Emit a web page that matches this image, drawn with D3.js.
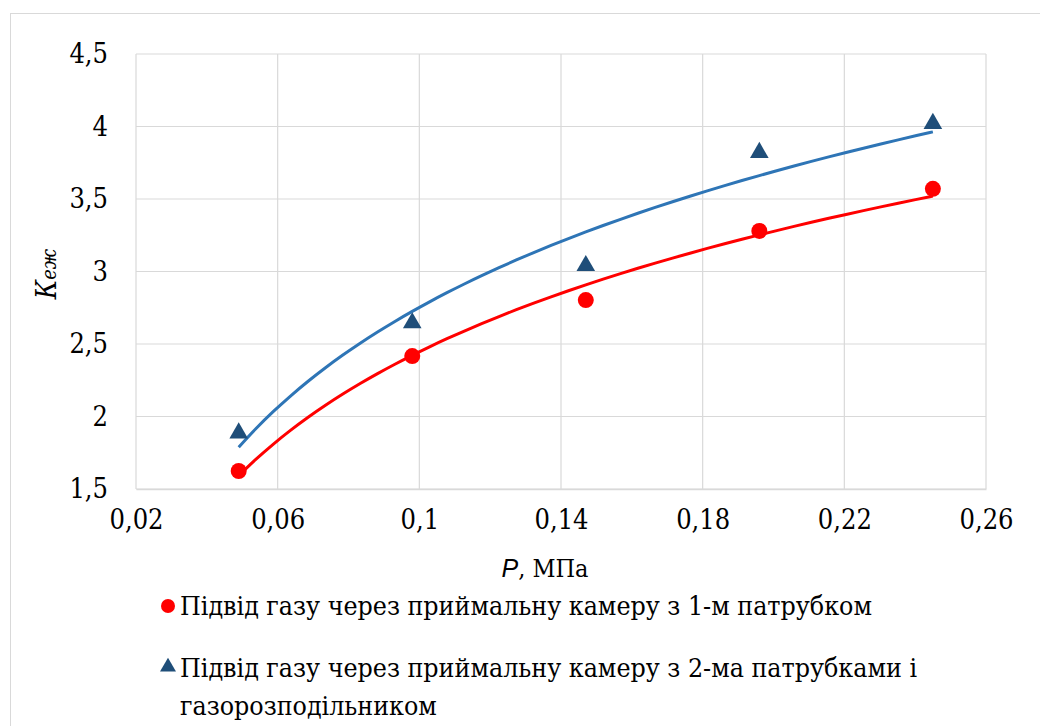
<!DOCTYPE html>
<html>
<head>
<meta charset="utf-8">
<script src="https://cdn.jsdelivr.net/npm/d3@7"></script>
<style>
  body { margin: 0; background: #fff; }
  svg text { fill: #000; }
</style>
</head>
<body>
<svg id="chart"></svg>
<script>
const pressure = [0.049, 0.098, 0.147, 0.196, 0.245];
const oneNozzle = [1.624, 2.417, 2.803, 3.28, 3.57];
const twoNozzles = [1.886, 2.645, 3.04, 3.82, 4.02];
const xTicks = [0.02, 0.06, 0.1, 0.14, 0.18, 0.22, 0.26];
const yTicks = [1.5, 2, 2.5, 3, 3.5, 4, 4.5];
const legendLabels = [
    ["Підвід газу через приймальну камеру з 1-м патрубком"],
    ["Підвід газу через приймальну камеру з 2-ма патрубками і", "газорозподільником"]
];

var width = 1040, height = 726;
var serifNarrow = "DejaVu Serif Condensed";
var svg = d3.select("#chart").attr("width", width).attr("height", height);

// outer frame of the chart
svg.append("rect")
    .attr("x", 10.5).attr("y", 13.5)
    .attr("width", 1040).attr("height", 730)
    .attr("fill", "none").attr("stroke", "#d9d9d9").attr("stroke-width", 1);

var x = d3.scaleLinear().domain([0.02, 0.26]).range([136, 986]);
var y = d3.scaleLinear().domain([1.5, 4.5]).range([489, 54]);
var fmt = d => String(+d.toFixed(2)).replace(".", ",");

// gridlines
svg.append("g").selectAll("line").data(xTicks).enter().append("line")
    .attr("x1", d => x(d)).attr("x2", d => x(d))
    .attr("y1", y(1.5)).attr("y2", y(4.5))
    .attr("stroke", "#d9d9d9").attr("stroke-width", 1.2);
svg.append("g").selectAll("line").data(yTicks).enter().append("line")
    .attr("x1", x(0.02)).attr("x2", x(0.26))
    .attr("y1", d => y(d)).attr("y2", d => y(d))
    .attr("stroke", "#d9d9d9").attr("stroke-width", 1.2);

// axes
var xAxis = svg.append("g").attr("transform", `translate(0,${y(1.5)})`)
    .call(d3.axisBottom(x).tickValues(xTicks).tickFormat(fmt).tickSize(0).tickPadding(21));
xAxis.attr("font-family", serifNarrow).attr("font-size", 27);
xAxis.select(".domain").attr("stroke", "#d9d9d9").attr("stroke-width", 1.5);

var yAxis = svg.append("g").attr("transform", `translate(${x(0.02)},0)`)
    .call(d3.axisLeft(y).tickValues(yTicks).tickFormat(fmt).tickSize(0).tickPadding(28));
yAxis.attr("font-family", serifNarrow).attr("font-size", 27);
yAxis.select(".domain").remove();

// axis titles
var xt = svg.append("text").attr("x", 545).attr("y", 577)
    .attr("text-anchor", "middle").attr("font-size", 25).attr("font-family", serifNarrow);
xt.append("tspan").attr("font-style", "italic").attr("font-family", "Liberation Sans").text("P");
xt.append("tspan").text(", МПа");

var yt = svg.append("text").attr("transform", "translate(56,274) rotate(-90)")
    .attr("text-anchor", "middle").attr("font-style", "italic").attr("font-family", serifNarrow);
yt.append("tspan").attr("font-size", 28).text("К");
yt.append("tspan").attr("font-size", 20).text("еж");

// logarithmic trend lines, least squares on ln(P)
function logFit(xs, ys) {
    var lx = xs.map(Math.log);
    var mx = d3.mean(lx), my = d3.mean(ys);
    var sxy = d3.sum(lx, (v, i) => (v - mx) * (ys[i] - my));
    var sxx = d3.sum(lx, v => (v - mx) * (v - mx));
    var a = sxy / sxx, b = my - a * mx;
    return v => a * Math.log(v) + b;
}

var line = d3.line().x(d => x(d[0])).y(d => y(d[1])).curve(d3.curveMonotoneX);
function trend(ys, color) {
    var f = logFit(pressure, ys);
    var xs = d3.range(0, 41).map(i => pressure[0] + (pressure[4] - pressure[0]) * i / 40);
    svg.append("path")
        .datum(xs.map(v => [v, f(v)]))
        .attr("fill", "none").attr("stroke", color).attr("stroke-width", 3)
        .attr("d", line);
}
trend(twoNozzles, "#2e75b6");
trend(oneNozzle, "#ff0000");

// markers
svg.append("g").selectAll("circle").data(oneNozzle).enter().append("circle")
    .attr("cx", (d, i) => x(pressure[i])).attr("cy", d => y(d))
    .attr("r", 8).attr("fill", "#ff0000");

var tri = d3.symbol().type(d3.symbolTriangle).size(150);
svg.append("g").selectAll("path").data(twoNozzles).enter().append("path")
    .attr("d", tri)
    .attr("transform", (d, i) => `translate(${x(pressure[i])},${y(d)})`)
    .attr("fill", "#1f4e79");

// legend
var legend = svg.append("g");
legend.append("circle").attr("cx", 168).attr("cy", 606).attr("r", 7).attr("fill", "#ff0000");
legend.append("path").attr("d", d3.symbol().type(d3.symbolTriangle).size(110))
    .attr("transform", "translate(168,667)").attr("fill", "#1f4e79");
legendLabels.forEach((lines, k) => {
    lines.forEach((t, j) => {
        legend.append("text")
            .attr("x", 180).attr("y", (k === 0 ? 615 : 677) + j * 38)
            .attr("font-family", serifNarrow)
            .attr("font-size", 26.5).text(t);
    });
});
</script>
</body>
</html>
